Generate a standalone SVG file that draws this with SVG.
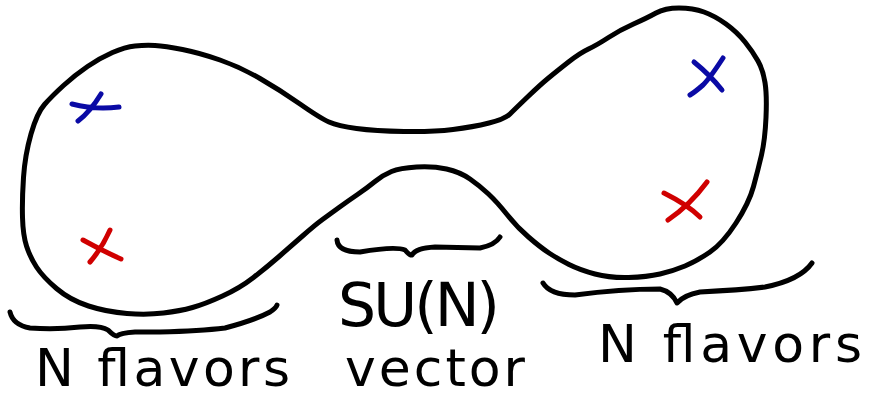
<svg xmlns="http://www.w3.org/2000/svg" width="871" height="398" viewBox="0 0 871 398">
<style>
.ink{fill:none;stroke:#000;stroke-width:5;stroke-linecap:round;stroke-linejoin:round}
.blue{fill:none;stroke:#0a0aa5;stroke-width:5;stroke-linecap:round}
.red{fill:none;stroke:#d00000;stroke-width:5;stroke-linecap:round}
.lbl{font-family:"DejaVu Sans","Liberation Sans",sans-serif;font-size:52px;fill:#000}
</style>
<rect width="871" height="398" fill="#fff"/>
<g id="outline">
<path class="ink" d="M22.5,217.5 Q22,200 23.5,177.5 Q25,155 31,134 Q37,113 44.5,104.5 Q52,96 63.5,85.5 Q75,75 87.5,66.5 Q100,58 112.5,52.5 Q125,47 135,46 Q145,45 155,45.5 Q165,46 182.5,49.5 Q200,53 220,60 Q240,67 260,78.5 Q280,90 300,104 Q320,118 329,122 Q338,126 356.5,128.5 Q375,131 404,131.5 Q433,132 453,129.5 Q473,127 489,123 Q505,119 510,114 Q515,109 527.5,97 Q540,85 548.5,78 Q557,71 568.5,62 Q580,53 588.5,49 Q597,45 608.5,37.5 Q620,30 633.5,24 Q647,18 656,13 Q665,8 679,8 Q693,8 704,12 Q715,16 726,24 Q737,32 745,42 Q753,52 758,61 Q763,70 765,82.5 Q767,95 766,117.5 Q765,140 761.5,155 Q758,170 753.5,186.5 Q749,203 736,223 Q723,243 710,252 Q697,261 685,266 Q673,271 660,274 Q647,277 628.5,277.5 Q610,278 595,274 Q580,270 569,264.5 Q558,259 549,253 Q540,247 528.5,237 Q517,227 507,214.5 Q497,202 488.5,194 Q480,186 470,179 Q460,172 446.5,169 Q433,166 416.5,167 Q400,168 391.5,171.5 Q383,175 375,181.5 Q367,188 357.5,194.5 Q348,201 339,207.5 Q330,214 322.5,219.5 Q315,225 302.5,236 Q290,247 278.5,257 Q267,267 253.5,277.5 Q240,288 222.5,296 Q205,304 192.5,307.5 Q180,311 163.5,313 Q147,315 127,313.5 Q107,312 88.5,306 Q70,300 56.5,288.5 Q43,277 36.5,267 Q30,257 26.5,246 Q23,235 22.5,217.5 Z"/>
</g>
<g id="marks">
<path class="blue" d="M72,104 Q95,110 119,107 M101,94 Q90,112 78,121"/>
<path class="blue" d="M694,62 Q710,75 722,90 M723,58 Q710,78 703,85 Q695,92 690,95"/>
<path class="red" d="M83,240 Q105,252 121,259 M110,230 Q102,248 90,262"/>
<path class="red" d="M664,193 Q688,205 700,217 M707,182 Q690,205 668,220"/>
</g>
<g id="braces">
<path class="ink" d="M10,312 Q13,325 30,328 Q55,330 80,327 Q100,325 108,330 Q114,336 117,336 Q120,333 135,332 L160,332 Q200,331 225,328 Q255,320 270,312 Q276,308 277,305"/>
<path class="ink" d="M337,240 Q338,252 360,252 Q395,246 405,250 Q410,256 412,255 Q416,248 435,247 L480,248 Q495,245 500,237"/>
<path class="ink" d="M543,283 Q550,295 575,295 Q620,289 660,289 Q672,292 677,303 Q684,295 700,292 Q740,290 765,287 Q800,280 812,263"/>
</g>
<g id="labels">
<text class="lbl" x="35" y="386" textLength="255" lengthAdjust="spacing">N flavors</text>
<text class="lbl" x="338" y="326" style="font-size:60px" textLength="162" lengthAdjust="spacing">SU(N)</text>
<text class="lbl" x="345" y="386" textLength="180" lengthAdjust="spacing">vector</text>
<text class="lbl" x="598" y="362" textLength="264" lengthAdjust="spacing">N flavors</text>
</g>
</svg>
